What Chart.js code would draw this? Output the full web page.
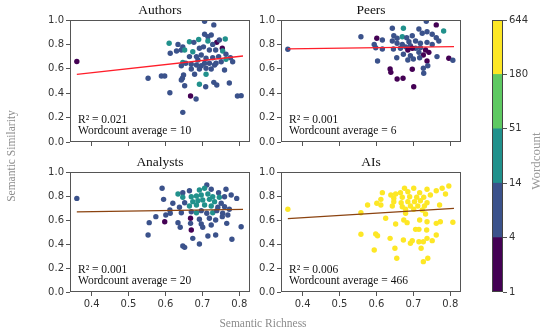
<!DOCTYPE html>
<html>
<head>
<meta charset="UTF-8">
<title>Semantic Richness vs Semantic Similarity</title>
<script src="https://cdn.jsdelivr.net/npm/chart.js@4.4.0/dist/chart.umd.min.js"></script>
<style>
  body { margin: 0; background: #fff; }
  #wrap { position: relative; width: 550px; height: 336px; }
  #wrap canvas { position: absolute; left: 0; top: 0; }
</style>
</head>
<body>
<div id="wrap">
  <canvas id="cAuthors" width="550" height="336"></canvas>
  <canvas id="cPeers" width="550" height="336"></canvas>
  <canvas id="cAnalysts" width="550" height="336"></canvas>
  <canvas id="cAIs" width="550" height="336"></canvas>
  <canvas id="cBar" width="550" height="336"></canvas>
</div>
<script>
// ---- data ----
var xTicks = [0.4, 0.5, 0.6, 0.7, 0.8];
var yTicks = [0.0, 0.2, 0.4, 0.6, 0.8, 1.0];
var wcBounds = [1, 4, 14, 51, 180, 644];
var viridis = ['#440154', '#3b528b', '#21918c', '#5ec962', '#fde725'];

var authorsX = [0.36, 0.706, 0.731, 0.610, 0.634, 0.647, 0.643, 0.630, 0.613, 0.652, 0.674, 0.665, 0.677, 0.690, 0.706, 0.715, 0.724, 0.715, 0.739, 0.762,
  0.746, 0.728, 0.703, 0.692, 0.719, 0.736, 0.754, 0.755, 0.665, 0.684, 0.697, 0.688, 0.710, 0.728, 0.744, 0.764, 0.776, 0.782, 0.647, 0.655,
  0.643, 0.670, 0.684, 0.697, 0.706, 0.719, 0.737, 0.751, 0.670, 0.692, 0.710, 0.724, 0.733, 0.679, 0.710, 0.760, 0.764, 0.553, 0.589, 0.598,
  0.646, 0.649, 0.643, 0.652, 0.692, 0.709, 0.731, 0.739, 0.773, 0.612, 0.668, 0.683, 0.805, 0.647, 0.795];
var authorsY = [0.66, 0.99, 0.96, 0.81, 0.80, 0.78, 0.754, 0.746, 0.727, 0.754, 0.74, 0.822, 0.817, 0.84, 0.883, 0.863, 0.877, 0.828, 0.817, 0.844,
  0.836, 0.80, 0.78, 0.768, 0.754, 0.754, 0.768, 0.746, 0.70, 0.70, 0.713, 0.672, 0.686, 0.691, 0.70, 0.719, 0.691, 0.658, 0.653, 0.645,
  0.625, 0.637, 0.631, 0.625, 0.645, 0.645, 0.645, 0.658, 0.598, 0.598, 0.604, 0.598, 0.631, 0.555, 0.555, 0.59, 0.678, 0.522, 0.541, 0.541,
  0.522, 0.549, 0.508, 0.461, 0.473, 0.453, 0.489, 0.467, 0.484, 0.404, 0.377, 0.352, 0.38, 0.243, 0.377];
var authorsWords = [2, 8, 8, 25, 8, 8, 8, 8, 8, 25, 25, 25, 8, 25, 8, 8, 8, 25, 2, 25,
  8, 8, 8, 8, 8, 8, 2, 25, 8, 8, 8, 8, 8, 8, 8, 8, 8, 8, 25, 8,
  8, 8, 8, 8, 8, 8, 8, 8, 8, 8, 8, 8, 8, 8, 25, 8, 25, 8, 8, 8,
  8, 8, 8, 8, 25, 8, 8, 8, 8, 8, 2, 8, 8, 8, 8];

var peersX = [0.36, 0.735, 0.762, 0.643, 0.673, 0.782, 0.558, 0.601, 0.616, 0.594, 0.598, 0.616, 0.647, 0.656, 0.670, 0.682, 0.697, 0.715, 0.724, 0.737,
  0.751, 0.762, 0.769, 0.643, 0.656, 0.670, 0.688, 0.706, 0.719, 0.737, 0.751, 0.646, 0.665, 0.679, 0.692, 0.706, 0.719, 0.685, 0.697, 0.733,
  0.742, 0.727, 0.715, 0.692, 0.673, 0.655, 0.700, 0.685, 0.717, 0.737, 0.764, 0.603, 0.739, 0.727, 0.697, 0.637, 0.639, 0.728, 0.656, 0.672,
  0.701, 0.796, 0.807];
var peersY = [0.76, 0.99, 0.96, 0.932, 0.932, 0.91, 0.863, 0.85, 0.836, 0.80, 0.773, 0.762, 0.871, 0.85, 0.863, 0.855, 0.871, 0.926, 0.891, 0.904,
  0.883, 0.855, 0.828, 0.828, 0.809, 0.80, 0.822, 0.828, 0.809, 0.817, 0.80, 0.762, 0.768, 0.78, 0.789, 0.768, 0.773, 0.754, 0.768, 0.754,
  0.735, 0.713, 0.735, 0.707, 0.719, 0.691, 0.68, 0.672, 0.691, 0.664, 0.70, 0.664, 0.625, 0.604, 0.596, 0.598, 0.571, 0.563, 0.516, 0.522,
  0.453, 0.686, 0.67];
var peersWords = [8, 8, 2, 8, 25, 25, 8, 2, 8, 8, 8, 8, 8, 8, 25, 8, 8, 8, 8, 8,
  8, 8, 8, 8, 8, 8, 8, 8, 8, 8, 8, 8, 8, 8, 8, 8, 8, 2, 2, 2,
  2, 2, 8, 8, 8, 8, 8, 8, 8, 2, 8, 8, 8, 8, 2, 2, 2, 8, 2, 2,
  2, 2, 8];

var analystsX = [0.36, 0.712, 0.591, 0.634, 0.647, 0.665, 0.692, 0.706, 0.724, 0.744, 0.764, 0.778, 0.793, 0.595, 0.620, 0.647, 0.670, 0.684, 0.697, 0.715,
  0.728, 0.746, 0.760, 0.652, 0.674, 0.688, 0.701, 0.719, 0.733, 0.751, 0.638, 0.665, 0.684, 0.706, 0.724, 0.742, 0.760, 0.773, 0.612, 0.601,
  0.574, 0.613, 0.643, 0.670, 0.684, 0.697, 0.712, 0.728, 0.739, 0.755, 0.769, 0.668, 0.692, 0.719, 0.736, 0.754, 0.766, 0.556, 0.598, 0.634,
  0.668, 0.697, 0.724, 0.640, 0.701, 0.670, 0.553, 0.715, 0.736, 0.674, 0.780, 0.692, 0.647, 0.652, 0.805];
var analystsY = [0.78, 0.892, 0.864, 0.817, 0.828, 0.844, 0.85, 0.864, 0.856, 0.828, 0.856, 0.808, 0.78, 0.772, 0.739, 0.789, 0.794, 0.80, 0.808, 0.817,
  0.794, 0.789, 0.794, 0.744, 0.753, 0.761, 0.767, 0.772, 0.753, 0.739, 0.706, 0.717, 0.725, 0.725, 0.717, 0.706, 0.711, 0.689, 0.683, 0.642,
  0.628, 0.656, 0.661, 0.669, 0.661, 0.678, 0.656, 0.661, 0.678, 0.656, 0.642, 0.614, 0.606, 0.614, 0.60, 0.628, 0.572, 0.578, 0.586, 0.578,
  0.572, 0.567, 0.558, 0.539, 0.539, 0.517, 0.475, 0.467, 0.475, 0.447, 0.439, 0.40, 0.383, 0.372, 0.544];
var analystsWords = [8, 8, 8, 25, 8, 8, 25, 25, 8, 8, 8, 8, 8, 8, 8, 25, 25, 25, 25, 25,
  25, 25, 8, 8, 25, 25, 25, 25, 25, 8, 8, 25, 25, 25, 25, 8, 8, 8, 8, 8,
  8, 8, 8, 8, 25, 8, 8, 25, 8, 8, 8, 3, 8, 8, 8, 8, 8, 8, 3, 8,
  8, 8, 8, 8, 8, 3, 8, 8, 8, 8, 8, 8, 8, 8, 8];

var aisX = [0.36, 0.796, 0.778, 0.762, 0.787, 0.737, 0.701, 0.676, 0.616, 0.639, 0.652, 0.665, 0.685, 0.717, 0.746, 0.612, 0.601, 0.647, 0.670, 0.690,
  0.709, 0.728, 0.647, 0.667, 0.685, 0.703, 0.719, 0.737, 0.576, 0.612, 0.643, 0.670, 0.692, 0.712, 0.730, 0.771, 0.679, 0.701, 0.724, 0.558,
  0.679, 0.733, 0.625, 0.674, 0.683, 0.717, 0.737, 0.652, 0.762, 0.773, 0.807, 0.706, 0.715, 0.736, 0.558, 0.598, 0.603, 0.637, 0.673, 0.697,
  0.692, 0.715, 0.727, 0.737, 0.751, 0.762, 0.594, 0.650, 0.721, 0.655, 0.727, 0.739];
var aisY = [0.69, 0.883, 0.864, 0.844, 0.817, 0.856, 0.864, 0.864, 0.828, 0.808, 0.817, 0.828, 0.836, 0.828, 0.808, 0.772, 0.739, 0.781, 0.789, 0.794,
  0.789, 0.789, 0.753, 0.744, 0.753, 0.753, 0.761, 0.744, 0.725, 0.725, 0.717, 0.711, 0.717, 0.717, 0.717, 0.725, 0.689, 0.689, 0.683, 0.661,
  0.656, 0.65, 0.614, 0.60, 0.578, 0.60, 0.586, 0.567, 0.572, 0.586, 0.581, 0.522, 0.522, 0.517, 0.481, 0.483, 0.469, 0.447, 0.433, 0.428,
  0.406, 0.419, 0.419, 0.447, 0.428, 0.475, 0.35, 0.364, 0.364, 0.281, 0.253, 0.281];
var aisWords = aisX.map(function () { return 466; });

var fitX = [0.36, 0.81];
var authorsFit = [0.555, 0.705];
var peersFit = [0.763, 0.781];
var analystsFit = [0.668, 0.689];
var aisFit = [0.611, 0.697];

var xMin = 0.3415, xMax = 0.829;

function colorFor(w) {
  for (var i = 0; i < viridis.length; i++) {
    if (w < wcBounds[i + 1]) return viridis[i];
  }
  return viridis[viridis.length - 1];
}

function panelText(title, r2, avg) {
  return {
    id: 'panelText',
    afterDraw: function (chart) {
      var ca = chart.chartArea, ctx = chart.ctx;
      ctx.save();
      ctx.strokeStyle = '#555';
      ctx.lineWidth = 1;
      ctx.strokeRect(Math.round(ca.left) + 0.5, Math.round(ca.top) + 0.5,
        Math.round(ca.width) - 1, Math.round(ca.height) - 1);
      ctx.fillStyle = '#111';
      ctx.font = '13.5px "Liberation Serif"';
      ctx.textAlign = 'center';
      ctx.fillText(title, (ca.left + ca.right) / 2, ca.top - 6);
      ctx.textAlign = 'left';
      ctx.font = '11.5px "Liberation Serif"';
      ctx.fillText('R\u00b2 = ' + r2, ca.left + 8, ca.bottom - 19);
      ctx.fillText('Wordcount average = ' + avg, ca.left + 8, ca.bottom - 8);
      ctx.restore();
    }
  };
}

var tickFont = { family: 'DejaVu Sans', size: 10 };

function panel(id, title, xs, ys, words, fit, lineColor, r2, avg, box, showX) {
  new Chart(document.getElementById(id), {
    type: 'scatter',
    data: {
      datasets: [
        {
          type: 'line',
          data: fitX.map(function (x, i) { return { x: x, y: fit[i] }; }),
          borderColor: lineColor,
          borderWidth: 1.3,
          pointRadius: 0,
          order: 0
        },
        {
          data: xs.map(function (x, i) { return { x: x, y: ys[i] }; }),
          backgroundColor: words.map(colorFor),
          pointRadius: 2.7,
          borderWidth: 0,
          order: 1
        }
      ]
    },
    options: {
      responsive: false,
      animation: false,
      devicePixelRatio: 1,
      layout: { padding: { left: box.l - 30, top: box.t, right: 550 - box.r, bottom: 336 - box.b - 20 } },
      plugins: { legend: { display: false }, tooltip: { enabled: false } },
      scales: {
        x: {
          type: 'linear', min: xMin, max: xMax,
          afterFit: function (s) { s.height = 20; },
          afterBuildTicks: function (s) { s.ticks = xTicks.map(function (v) { return { value: v }; }); },
          ticks: { display: showX, font: tickFont, color: '#333', padding: 2, maxRotation: 0, autoSkip: false,
            callback: function (v) { return v.toFixed(1); } },
          grid: { drawOnChartArea: false, tickLength: 4, color: '#555' },
          border: { display: false }
        },
        y: {
          min: 0, max: 1,
          afterFit: function (s) { s.width = 30; },
          afterBuildTicks: function (s) { s.ticks = yTicks.map(function (v) { return { value: v }; }); },
          ticks: { font: tickFont, color: '#333', padding: 2, autoSkip: false,
            callback: function (v) { return v.toFixed(1); } },
          grid: { drawOnChartArea: false, tickLength: 4, color: '#555' },
          border: { display: false }
        }
      }
    },
    plugins: [panelText(title, r2, avg)]
  });
}

panel('cAuthors', 'Authors', authorsX, authorsY, authorsWords, authorsFit, '#ff1e2a', '0.021', '10', { l: 70, t: 20, r: 250, b: 142 }, false);
panel('cPeers', 'Peers', peersX, peersY, peersWords, peersFit, '#ff1e2a', '0.001', '6', { l: 281, t: 20, r: 461, b: 142 }, false);
panel('cAnalysts', 'Analysts', analystsX, analystsY, analystsWords, analystsFit, '#8b4310', '0.001', '20', { l: 70, t: 172, r: 250, b: 292 }, true);
panel('cAIs', 'AIs', aisX, aisY, aisWords, aisFit, '#8b4310', '0.006', '466', { l: 281, t: 172, r: 461, b: 292 }, true);

// colorbar + shared axis labels
var labelsPlugin = {
  id: 'figLabels',
  afterDraw: function (chart) {
    var ctx = chart.ctx, ca = chart.chartArea;
    ctx.save();
    ctx.strokeStyle = '#444';
    ctx.lineWidth = 1;
    ctx.strokeRect(Math.round(ca.left) + 0.5, Math.round(ca.top) + 0.5,
      Math.round(ca.width) - 1, Math.round(ca.height) - 1);
    ctx.fillStyle = '#8c8c8c';
    ctx.font = '11.5px "Liberation Serif"';
    ctx.textAlign = 'center';
    ctx.textBaseline = 'middle';
    ctx.fillText('Semantic Richness', 263, 324);
    ctx.translate(12, 156);
    ctx.rotate(-Math.PI / 2);
    ctx.fillText('Semantic Similarity', 0, 0);
    ctx.restore();
    ctx.save();
    ctx.fillStyle = '#999';
    ctx.font = '13px "Liberation Serif"';
    ctx.textAlign = 'center';
    ctx.textBaseline = 'middle';
    ctx.translate(537, 161);
    ctx.rotate(-Math.PI / 2);
    ctx.fillText('Wordcount', 0, 0);
    ctx.restore();
  }
};

new Chart(document.getElementById('cBar'), {
  type: 'bar',
  data: {
    labels: [''],
    datasets: viridis.map(function (c) {
      return { data: [1], backgroundColor: c, barPercentage: 1, categoryPercentage: 1, borderWidth: 0 };
    })
  },
  options: {
    responsive: false,
    animation: false,
    devicePixelRatio: 1,
    layout: { padding: { left: 492, top: 20, right: 550 - 503 - 40, bottom: 336 - 292 } },
    plugins: { legend: { display: false }, tooltip: { enabled: false } },
    scales: {
      x: { display: false, stacked: true },
      y: {
        position: 'right', stacked: true, min: 0, max: 5,
        afterFit: function (s) { s.width = 40; },
        afterBuildTicks: function (s) { s.ticks = wcBounds.map(function (v, i) { return { value: i }; }); },
        ticks: { font: tickFont, color: '#333', padding: 2, autoSkip: false,
          callback: function (v, i) { return String(wcBounds[i]); } },
        grid: { drawOnChartArea: false, tickLength: 4, color: '#555' },
        border: { display: false }
      }
    }
  },
  plugins: [labelsPlugin]
});
</script>
</body>
</html>
